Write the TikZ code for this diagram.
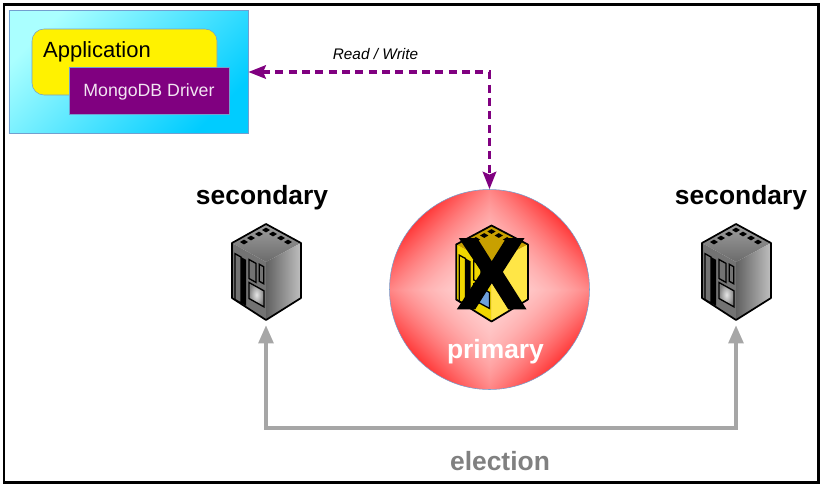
\documentclass[tikz,border=0pt]{standalone}
\usepackage{fontspec}
\setmainfont{Liberation Sans}
\newfontfamily\crossfont[FakeBold=2.6]{Liberation Sans Bold}
\usetikzlibrary{arrows.meta,positioning}

\definecolor{boxedge}{RGB}{114,159,207}
\definecolor{drivercol}{RGB}{128,0,128}
\definecolor{electcol}{RGB}{166,166,166}
\definecolor{skypale}{RGB}{170,255,255}
\definecolor{skydeep}{RGB}{0,204,255}

\pgfdeclarefunctionalshading{diamondred}{\pgfpointorigin}{\pgfpoint{100bp}{100bp}}{}{
	50 sub abs exch 50 sub abs add
	dup mul 0.00048 mul 0.82 exch sub
	1 exch dup
}

\tikzset{
	biglabel/.style={font=\fontsize{19.8pt}{22pt}\selectfont\bfseries},
	srvslot/.style={minimum width=52pt,minimum height=79.5pt,inner sep=0pt},
	greyserver/.style={
		srvtop/.style={top color=black!38,bottom color=black!58},
		srvleft/.style={fill=black!55},
		srvright/.style={left color=black!62,right color=black!25},
		srvglass/.style={inner color=black!10,outer color=black!50}},
	yellowserver/.style={
		srvtop/.style={fill={rgb,255:red,200;green,160;blue,0}},
		srvleft/.style={fill={rgb,255:red,240;green,215;blue,0}},
		srvright/.style={fill={rgb,255:red,255;green,230;blue,70}},
		srvglass/.style={fill={rgb,255:red,110;green,160;blue,220}}},
	pics/server/.style={code={
		\path[srvtop] (0,-48) -- (35,-29) -- (0,-10) -- (-34,-29) -- cycle;
		\path[srvleft] (-34,-29) -- (0,-10) -- (0,48) -- (-34,26) -- cycle;
		\path[srvright] (35,-29) -- (0,-10) -- (0,48) -- (35,26) -- cycle;
		\draw[line join=round,line width=1.3pt] (0,-48) -- (35,-29) -- (35,26) -- (0,48) -- (-34,26) -- (-34,-29) -- cycle;
		\foreach \dx/\dy in {-22/-30,-15/-34,-7/-38,0/-42,7/-38,15/-34,22/-30}
			\fill[black] (\dx-4,\dy) -- (\dx,\dy-2.4) -- (\dx+4,\dy) -- (\dx,\dy+2.4) -- cycle;
		\begin{scope}[yslant=-0.56,line width=1pt]
			\draw (-31,-1) rectangle (-25,45);
			\fill[black] (-25,-1) rectangle (-20,45);
			\draw (-17,-3) rectangle (-10,16);
			\draw (-6.7,-4) rectangle (-2.3,13);
			\draw[srvglass] (-17,20) rectangle (-2,36);
		\end{scope}
	}}
}

\begin{document}
\begin{tikzpicture}[x=.75pt,y=-.75pt,node distance=55.5pt,on grid]
	\useasboundingbox (0,0) rectangle (821,487);
	\draw[line width=2.2pt] (4,4.5) rectangle (818.5,482.5);

	% client box
	\node[draw=boxedge,top color=skypale,bottom color=skydeep,shading angle=45,minimum width=179.5pt,minimum height=92.5pt,inner sep=0pt] (client) at (128.5,72) {};
	\node[draw=boxedge,fill=yellow,rounded corners=9pt,minimum width=138.75pt,minimum height=49.5pt,inner sep=0pt] (app) at (124.5,62) {};
	\node[draw=boxedge,fill=drivercol,minimum width=120pt,minimum height=35.25pt,inner sep=0pt,text depth=0pt,text=white!90!drivercol,font=\fontsize{13.3pt}{15pt}\selectfont] (driver) at (149,90.5) {MongoDB Driver};
	\node[font=\fontsize{16.5pt}{19pt}\selectfont] (app_lab) at (97,52) {Application};

	% primary
	\node[draw=boxedge,circle,shading=diamondred,minimum size=150pt,inner sep=0pt] (pri) at (489.5,289.5) {};
	\pic[yellowserver,xscale=1.04] at (491.5,273.5) {server};
	\node[font=\fontsize{75pt}{80pt}\selectfont\crossfont,inner sep=0pt] (cross) at (491.7,273.7) {X};
	\node[biglabel,text=white] (pri_lab) at (495.5,352) {primary};

	% secondaries
	\node[srvslot] (sec_1) at (266,272) {};
	\node[srvslot] (sec_2) [right=352.5pt of sec_1] {};
	\pic[greyserver] at (sec_1) {server};
	\pic[greyserver] at (sec_2) {server};
	\node[biglabel] (sec_lab1) [above=of sec_1,xshift=-3pt] {secondary};
	\node[biglabel] (sec_lab2) [above=of sec_2,xshift=3.75pt] {secondary};

	% connectors
	\coordinate (elect) at (500,428);
	\draw[{Triangle[length=13.5pt,width=11pt]}-{Triangle[length=13.5pt,width=11pt]},electcol,line width=2.6pt] (sec_1.south) |- (elect) -| (sec_2.south);
	\draw[{Stealth[length=13pt,width=10pt,inset=2pt]}-{Stealth[length=13pt,width=10pt,inset=2pt]},drivercol,line width=2.6pt,dash pattern=on 6pt off 4pt] (client.east) -| (pri.north);

	\node[biglabel,text=black!50] (elect_lab) at (500,461) {election};
	\node[font=\fontsize{11.5pt}{13pt}\selectfont\itshape] (rw_lab) at (375.5,54) {Read / Write};
\end{tikzpicture}
\end{document}
